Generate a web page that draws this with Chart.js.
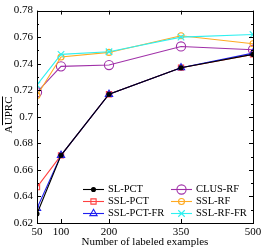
<!DOCTYPE html>
<html>
<head>
<meta charset="utf-8">
<script src="https://cdn.jsdelivr.net/npm/chart.js@4/dist/chart.umd.min.js"></script>
<style>
  html, body { margin: 0; padding: 0; background: #fff; }
  #wrap { width: 265px; height: 249px; }
</style>
</head>
<body>
<div id="wrap"><canvas id="chart" width="265" height="249"></canvas></div>
<script>
// labeled example counts (x) and tick values
const xValues = [50, 100, 200, 350, 500];
const xTicks = [50, 100, 200, 350, 500];
const yTicks = [0.62, 0.64, 0.66, 0.68, 0.7, 0.72, 0.74, 0.76, 0.78];

// AUPRC per method
const slPct = [0.627, 0.671, 0.717, 0.737, 0.747];
const sslPct = [0.647, 0.671, 0.717, 0.737, 0.747];
const sslPctFr = [0.631, 0.671, 0.717, 0.737, 0.748];
const clusRf = [0.7185, 0.738, 0.739, 0.753, 0.7505];
const sslRf = [0.716, 0.745, 0.7485, 0.761, 0.755];
const sslRfFr = [0.724, 0.747, 0.749, 0.760, 0.762];

const FONT = 'Liberation Serif';

function series(label, values, color, style, radius, order, fill) {
  return {
    label: label,
    data: xValues.map((x, i) => ({ x: x, y: values[i] })),
    borderColor: color,
    backgroundColor: fill || 'transparent',
    pointBorderColor: color,
    pointBackgroundColor: fill || 'transparent',
    pointStyle: style,
    pointRadius: radius,
    pointBorderWidth: 1.1,
    borderWidth: 1.1,
    tension: 0,
    order: order
  };
}

const datasets = [
  series('SL-PCT', slPct, '#000000', 'circle', 2, 0, '#000000'),
  series('SSL-PCT', sslPct, '#ff4040', 'rect', 3.7, 2),
  series('SSL-PCT-FR', sslPctFr, '#2020f0', 'triangle', 4.2, 1),
  series('CLUS-RF', clusRf, '#a030a8', 'circle', 4.6, 5),
  series('SSL-RF', sslRf, '#ffaa22', 'circle', 3, 4),
  series('SSL-RF-FR', sslRfFr, '#30f0f0', 'crossRot', 4.6, 3)
];

// frame, inward ticks, y title and the legend box inside the plot
const framePlugin = {
  id: 'frame',
  afterDraw(chart) {
    const ctx = chart.ctx;
    const a = chart.chartArea;
    const xs = chart.scales.x, ys = chart.scales.y;
    ctx.save();
    ctx.strokeStyle = '#000';
    ctx.lineWidth = 1;
    ctx.strokeRect(Math.round(a.left) + 0.5, Math.round(a.top) + 0.5,
                   Math.round(a.right - a.left), Math.round(a.bottom - a.top));
    ctx.beginPath();
    xTicks.forEach(v => {
      const px = Math.round(xs.getPixelForValue(v)) + 0.5;
      ctx.moveTo(px, a.bottom); ctx.lineTo(px, a.bottom - 4);
      ctx.moveTo(px, a.top); ctx.lineTo(px, a.top + 4);
    });
    for (let k = 62; k <= 78; k++) {
      const py = Math.round(ys.getPixelForValue(k / 100)) + 0.5;
      const len = k % 2 === 0 ? 4 : 2;
      ctx.moveTo(a.left, py); ctx.lineTo(a.left + len, py);
      ctx.moveTo(a.right, py); ctx.lineTo(a.right - len, py);
    }
    ctx.stroke();

    // y title: A + overlined UPRC
    ctx.font = '11px "' + FONT + '"';
    ctx.fillStyle = '#000';
    ctx.translate(9, (a.top + a.bottom) / 2 - 2);
    ctx.rotate(-Math.PI / 2);
    const full = ctx.measureText('AUPRC').width;
    const aw = ctx.measureText('A').width;
    ctx.textBaseline = 'middle';
    ctx.textAlign = 'left';
    ctx.fillText('AUPRC', -full / 2, 0);
    ctx.beginPath();
    ctx.moveTo(-full / 2 + aw, -6.5);
    ctx.lineTo(full / 2, -6.5);
    ctx.stroke();
    ctx.restore();

    // legend: two columns, three rows
    ctx.save();
    ctx.font = '10.5px "' + FONT + '"';
    ctx.textBaseline = 'middle';
    ctx.textAlign = 'left';
    const cols = [a.left + 46, a.left + 134];
    const rows = [a.bottom - 34, a.bottom - 22, a.bottom - 10];
    chart.data.datasets.forEach((ds, i) => {
      const x0 = cols[Math.floor(i / 3)];
      const y0 = Math.round(rows[i % 3]) + 0.5;
      ctx.strokeStyle = ds.borderColor;
      ctx.fillStyle = ds.pointBackgroundColor;
      ctx.lineWidth = 1.1;
      ctx.beginPath();
      ctx.moveTo(x0, y0); ctx.lineTo(x0 + 21, y0);
      ctx.stroke();
      Chart.helpers.drawPoint(ctx, {
        pointStyle: ds.pointStyle, radius: ds.pointRadius, rotation: 0, borderWidth: 1.1
      }, x0 + 10.5, y0);
      ctx.fillStyle = '#000';
      ctx.fillText(ds.label, x0 + 25, y0);
    });
    ctx.restore();
  }
};

new Chart(document.getElementById('chart'), {
  type: 'line',
  data: { datasets: datasets },
  options: {
    responsive: false,
    animation: false,
    devicePixelRatio: 1,
    layout: { padding: { top: 7, right: 12, bottom: 0, left: 0 } },
    plugins: { legend: { display: false }, tooltip: { enabled: false } },
    scales: {
      x: {
        type: 'linear',
        min: 50,
        max: 500,
        afterBuildTicks: s => { s.ticks = xTicks.map(v => ({ value: v })); },
        afterFit: s => { s.height = 26; },
        grid: { display: false, drawTicks: false },
        border: { display: false },
        ticks: { color: '#000', padding: 3, font: { family: FONT, size: 11 }, maxRotation: 0 },
        title: {
          display: true, text: 'Number of labeled examples', color: '#000',
          font: { family: FONT, size: 11 }, padding: { top: 0, bottom: 0 }
        }
      },
      y: {
        min: 0.62,
        max: 0.78,
        afterBuildTicks: s => { s.ticks = yTicks.map(v => ({ value: v })); },
        afterFit: s => { s.width = 37; },
        grid: { display: false, drawTicks: false },
        border: { display: false },
        ticks: {
          color: '#000', padding: 4, font: { family: FONT, size: 11 },
          callback: v => parseFloat(v.toFixed(2)).toString()
        }
      }
    }
  },
  plugins: [framePlugin]
});
</script>
</body>
</html>
